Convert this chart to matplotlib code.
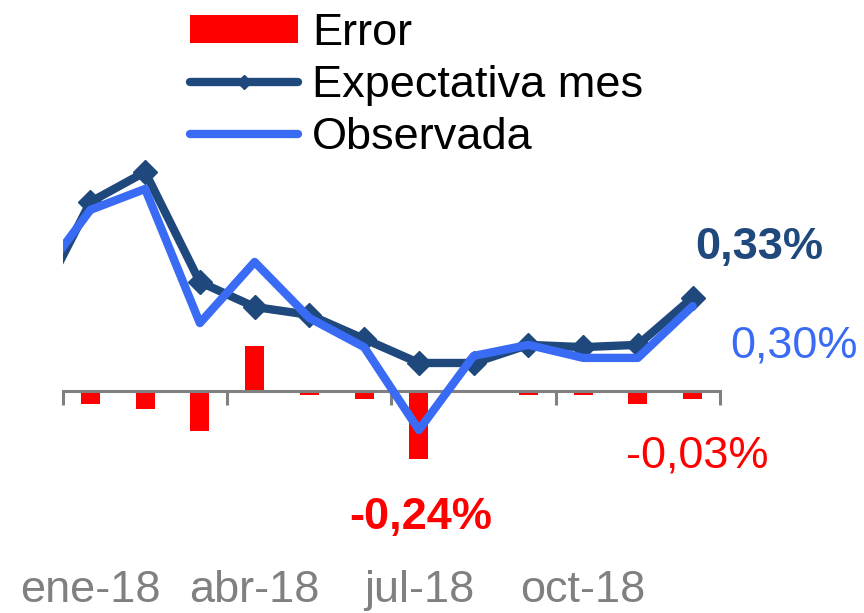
import matplotlib.pyplot as plt
import numpy as np

plt.rcParams['font.family'] = ['Liberation Sans', 'DejaVu Sans']

# months dic-17 .. dic-18 (dic-17 only shows as the clipped line start)
months = ['dic-17', 'ene-18', 'feb-18', 'mar-18', 'abr-18', 'may-18', 'jun-18',
          'jul-18', 'ago-18', 'sep-18', 'oct-18', 'nov-18', 'dic-18']
expectativa = [0.29, 0.668, 0.774, 0.385, 0.297, 0.269, 0.184,
               0.099, 0.099, 0.163, 0.155, 0.163, 0.33]
observada = [0.38, 0.64, 0.714, 0.24, 0.456, 0.258, 0.155,
             -0.138, 0.124, 0.163, 0.117, 0.117, 0.30]
error = [np.nan, -0.045, -0.065, -0.14, 0.16, -0.015, -0.03,
         -0.24, 0.005, -0.015, -0.015, -0.045, -0.03]
tick_labels = ['ene-18', 'abr-18', 'jul-18', 'oct-18']

navy = '#1F497D'
blue = '#3A6BF5'
red = '#FF0000'
grey = '#808080'
fs = 32.5

x = np.arange(len(months)) - 1  # ene-18 -> 0

fig = plt.figure(figsize=(8.64, 6.13), dpi=100)
ax = fig.add_axes([63/864, 0.0852, (720-63)/864, 0.7386])

bars = ax.bar(x, error, width=0.35, color=red, zorder=1, label='Error')
l1, = ax.plot(x, expectativa, color=navy, lw=6, marker='D', ms=12.5,
              solid_capstyle='round', zorder=3, label='Expectativa mes')
l2, = ax.plot(x, observada, color=blue, lw=6, solid_capstyle='round',
              zorder=4, label='Observada')

ax.set_xlim(-0.5, 11.5)
ax.set_ylim(-0.6, 1.0)

for s in ['top', 'right', 'left']:
    ax.spines[s].set_visible(False)
ax.spines['bottom'].set_position(('data', 0))
ax.spines['bottom'].set_color(grey)
ax.spines['bottom'].set_linewidth(2.2)
ax.spines['bottom'].set_zorder(2)
ax.set_yticks([])
ax.set_xticks(np.arange(-0.5, 12, 3))
ax.tick_params(axis='x', direction='out', length=10, width=2.2,
               color=grey, labelbottom=False)

for lbl in tick_labels:
    i = months.index(lbl) - 1
    ax.text(i, -0.705, lbl, ha='center', va='center', fontsize=fs, color=grey)

# data labels
last = len(months) - 1
ax.annotate('0,33%', (x[last], expectativa[last]), xytext=(48, 36),
            textcoords='offset points', ha='center', va='center',
            fontsize=fs, fontweight='bold', color=navy)
ax.annotate('0,30%', (x[last], observada[last]), xytext=(73, -29),
            textcoords='offset points', ha='center', va='center',
            fontsize=fs, color=blue)
ax.annotate('-0,03%', (x[last], error[last]), xytext=(3, -41),
            textcoords='offset points', ha='center', va='center',
            fontsize=fs, color=red)
j = months.index('jul-18')
ax.annotate('-0,24%', (x[j], error[j]), xytext=(1, -42),
            textcoords='offset points', ha='center', va='center',
            fontsize=fs, fontweight='bold', color=red)

fig.legend([bars, l1, l2], ['Error', 'Expectativa mes', 'Observada'],
           loc='upper left', bbox_to_anchor=(190/864, 1 - 13/613),
           frameon=False, fontsize=fs, borderpad=0, borderaxespad=0,
           handlelength=2.4, handletextpad=0.3, handleheight=0.56,
           labelspacing=0.24, markerscale=0.6)

fig.savefig('out.png', dpi=100)
